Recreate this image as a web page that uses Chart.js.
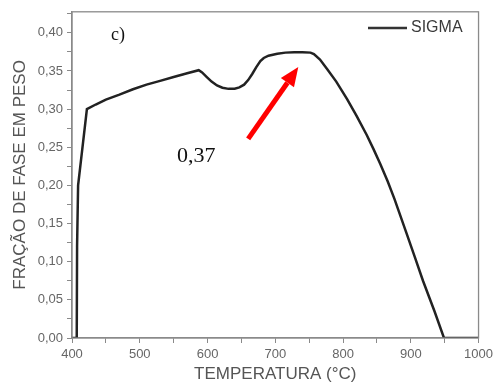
<!DOCTYPE html>
<html>
<head>
<meta charset="utf-8">
<script src="https://cdn.jsdelivr.net/npm/chart.js@4.4.1/dist/chart.umd.min.js"></script>
<style>
  html, body { margin: 0; padding: 0; background: #fff; }
  #wrap { width: 497px; height: 385px; }
</style>
</head>
<body>
<div id="wrap"><canvas id="fase"></canvas></div>
<script>
// temperatura (C) and fracao de fase sigma
let temps = [400, 407, 407.5, 409, 422, 435, 450, 470, 490, 510, 530, 550, 570, 587,
  592, 599, 606, 614, 622, 631, 640, 647, 654, 660, 666, 672, 678, 683, 690, 703, 715, 728, 740, 752, 757,
  766, 777, 790, 806, 820, 835, 845, 855, 866, 876, 893, 906, 918, 935, 949, 1000];
let sigma = [0, 0, 0.12, 0.20, 0.300, 0.306, 0.3125, 0.319, 0.326, 0.332, 0.337, 0.342, 0.347, 0.351,
  0.348, 0.342, 0.336, 0.331, 0.328, 0.3265, 0.3268, 0.3285, 0.332, 0.338, 0.346, 0.355, 0.363, 0.367, 0.370, 0.3726, 0.374, 0.3745, 0.3745, 0.374, 0.372,
  0.365, 0.352, 0.336, 0.313, 0.291, 0.266, 0.2475, 0.228, 0.205, 0.182, 0.139, 0.106, 0.075, 0.035, 0, 0];

let xTicks = [400, 450, 500, 550, 600, 650, 700, 750, 800, 850, 900, 950, 1000];
let xLabels = ['400', '', '500', '', '600', '', '700', '', '800', '', '900', '', '1000'];
let yTicks = [0, 0.025, 0.05, 0.075, 0.10, 0.125, 0.15, 0.175, 0.20, 0.225, 0.25, 0.275, 0.30, 0.325, 0.35, 0.375, 0.40, 0.425];
let yLabels = ['0,00', '', '0,05', '', '0,10', '', '0,15', '', '0,20', '', '0,25', '', '0,30', '', '0,35', '', '0,40', ''];

// the note in the plot: label "0,37" and red arrow pointing at the plateau
let arrowFrom = [660, 0.261];
let arrowTo = [734, 0.355];

let pts = temps.map((t, i) => ({x: t, y: sigma[i]}));

const extras = {
  id: 'extras',
  afterDraw(chart) {
    const c = chart.ctx, a = chart.chartArea;
    const xs = chart.scales.x, ys = chart.scales.y;
    c.save();
    // frame
    c.strokeStyle = '#8a8a8a';
    c.lineWidth = 1.3;
    c.strokeRect(a.left, a.top, a.right - a.left, a.bottom - a.top);

    // legend
    c.strokeStyle = '#333';
    c.lineWidth = 2.5;
    c.beginPath();
    c.moveTo(368, 28);
    c.lineTo(407, 28);
    c.stroke();
    c.fillStyle = '#3a3a3a';
    c.font = '16px "Liberation Sans", Arial, sans-serif';
    c.textBaseline = 'middle';
    c.fillText('SIGMA', 411, 28);

    // c) and value label
    c.fillStyle = '#111';
    c.font = '18px "Liberation Serif", "Times New Roman", serif';
    c.textBaseline = 'alphabetic';
    c.fillText('c)', 111, 40);
    c.font = '22px "Liberation Serif", "Times New Roman", serif';
    c.fillText('0,37', 177, 162);

    // arrow
    const x0 = xs.getPixelForValue(arrowFrom[0]), y0 = ys.getPixelForValue(arrowFrom[1]);
    const x1 = xs.getPixelForValue(arrowTo[0]), y1 = ys.getPixelForValue(arrowTo[1]);
    const ang = Math.atan2(y1 - y0, x1 - x0);
    const hl = 19, hw = 8;
    const bx = x1 - hl * Math.cos(ang), by = y1 - hl * Math.sin(ang);
    c.strokeStyle = '#ff0000';
    c.fillStyle = '#ff0000';
    c.lineWidth = 5;
    c.beginPath();
    c.moveTo(x0, y0);
    c.lineTo(bx, by);
    c.stroke();
    c.beginPath();
    c.moveTo(x1, y1);
    c.lineTo(bx + hw * Math.sin(ang), by - hw * Math.cos(ang));
    c.lineTo(bx - hw * Math.sin(ang), by + hw * Math.cos(ang));
    c.closePath();
    c.fill();
    c.restore();
  }
};

new Chart(document.getElementById('fase'), {
  type: 'line',
  data: {
    datasets: [{
      label: 'SIGMA',
      data: pts,
      borderColor: '#222',
      borderWidth: 2.5,
      pointRadius: 0,
      fill: false,
      tension: 0
    }]
  },
  options: {
    responsive: true,
    maintainAspectRatio: false,
    animation: false,
    layout: { padding: { top: 6, right: 14, left: 0, bottom: 0 } },
    plugins: { legend: { display: false }, tooltip: { enabled: false } },
    scales: {
      x: {
        type: 'linear',
        min: 400,
        max: 1000,
        afterBuildTicks: s => { s.ticks = xTicks.map(v => ({value: v})); },
        afterFit: s => { s.height = 47; },
        ticks: {
          autoSkip: false,
          maxRotation: 0,
          color: '#666',
          padding: 4,
          font: { family: '"Liberation Sans", Arial, sans-serif', size: 13 },
          callback: (v, i) => xLabels[i]
        },
        grid: { drawOnChartArea: false, drawTicks: true, tickLength: 5, color: '#8a8a8a' },
        border: { display: true, color: '#8a8a8a', width: 1.3 },
        title: {
          display: true,
          text: 'TEMPERATURA (°C)',
          color: '#555',
          padding: { top: 0, bottom: 0 },
          font: { family: '"Liberation Sans", Arial, sans-serif', size: 17 }
        }
      },
      y: {
        type: 'linear',
        min: 0,
        max: 0.4275,
        afterBuildTicks: s => { s.ticks = yTicks.map(v => ({value: v})); },
        afterFit: s => { s.width = 72; },
        ticks: {
          autoSkip: false,
          color: '#666',
          padding: 4,
          font: { family: '"Liberation Sans", Arial, sans-serif', size: 13 },
          callback: (v, i) => yLabels[i]
        },
        grid: { drawOnChartArea: false, drawTicks: true, tickLength: 5, color: '#8a8a8a' },
        border: { display: true, color: '#8a8a8a', width: 1.3 },
        title: {
          display: true,
          text: 'FRAÇÃO DE FASE EM PESO',
          color: '#555',
          padding: { top: 10, bottom: 0 },
          font: { family: '"Liberation Sans", Arial, sans-serif', size: 17 }
        }
      }
    }
  },
  plugins: [extras]
});
</script>
</body>
</html>
